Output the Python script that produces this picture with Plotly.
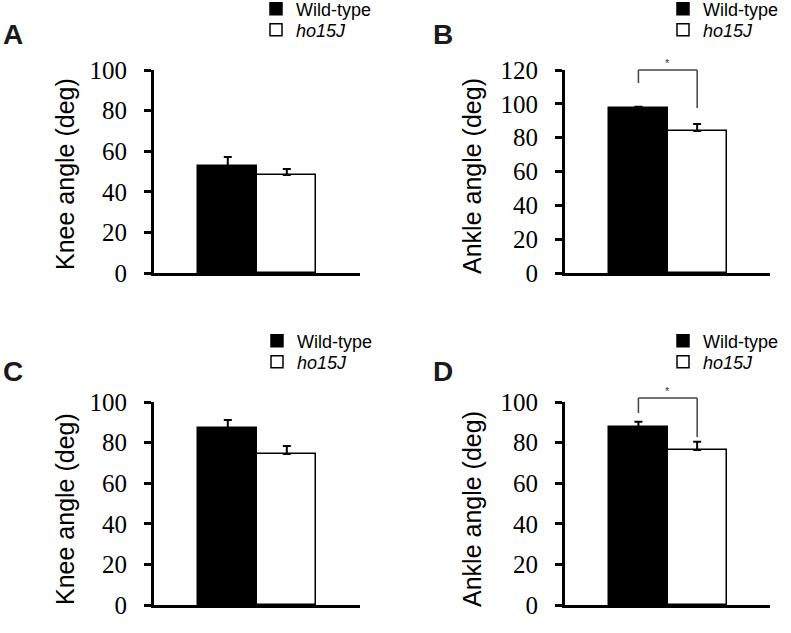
import plotly.graph_objects as go

W, H = 791, 633

groups = ["Wild-type", "ho15J"]
legend_names = ["Wild-type", "<i>ho15J</i>"]
panel_letters = ["A", "B", "C", "D"]
y_titles = ["Knee angle (deg)", "Ankle angle (deg)", "Knee angle (deg)", "Ankle angle (deg)"]
y_max = [100, 120, 100, 100]

# means and SEM (upward error only)
means_A = [52.7, 48.3]
err_A = [4.4, 2.9]
means_B = [97.5, 83.9]
err_B = [0.8, 4.2]
means_C = [87.2, 74.4]
err_C = [3.9, 3.9]
means_D = [87.5, 76.4]
err_D = [2.8, 4.0]

# significance brackets: (top, left leg bottom, right leg bottom, star y) for B and D
bracket_B = [120, 112.3, 97.5, 124]
bracket_D = [102, 94.6, 82.8, 105.5]

means = [means_A, means_B, means_C, means_D]
errs = [err_A, err_B, err_C, err_D]
brackets = [None, bracket_B, None, bracket_D]

fills = ["black", "white"]
x_range = [-1.25, 2.24]

def px_x(p):
    return p / W

def px_y(p):
    return 1 - p / H

def xfrac(c):
    # category index -> fraction of the x axis domain
    return (c - x_range[0]) / (x_range[1] - x_range[0])

# plot-area pixel boxes (left, right, top, bottom)
boxes = [(154, 360, 70, 273), (565, 770, 70, 273), (154, 360, 402, 605), (565, 770, 402, 605)]
title_pos = [(65, 174), (472, 176), (65, 509), (472, 509)]
letter_pos = [(13, 34), (443, 34), (13, 371), (443, 371)]
# legend: left x of legend box, centre y of each row
legend_x = [256, 663, 257, 663]
legend_rows = [(9, 30), (9, 30), (341, 362), (341, 362)]

fig = go.Figure()
layout = dict(
    width=W, height=H, margin=dict(l=0, r=0, t=0, b=0, autoexpand=False),
    plot_bgcolor="white", paper_bgcolor="white", barmode="group", bargap=0,
    showlegend=True,
)
annotations = []
shapes = []

for i in range(4):
    xa = "x" if i == 0 else f"x{i+1}"
    ya = "y" if i == 0 else f"y{i+1}"
    for g in range(2):
        k = 2 * i + g + 1
        lg = "legend" if k == 1 else f"legend{k}"
        fig.add_trace(go.Bar(
            x=[groups[g]], y=[means[i][g]], name=legend_names[g],
            xaxis=xa, yaxis=ya, legend=lg, width=1,
            marker=dict(color=fills[g], line=dict(color="black", width=1.5)),
            error_y=dict(type="data", symmetric=False, array=[errs[i][g]], arrayminus=[0],
                         color="black", thickness=2, width=4),
        ))
        layout[lg] = dict(
            x=px_x(legend_x[i]), y=px_y(legend_rows[i][g]), xanchor="left", yanchor="middle",
            bgcolor="rgba(0,0,0,0)", borderwidth=0, tracegroupgap=0,
            font=dict(family="Liberation Sans", size=18, color="black"),
            itemclick=False, itemdoubleclick=False,
        )
    l, r, t, b = boxes[i]
    xkey = "xaxis" if i == 0 else f"xaxis{i+1}"
    ykey = "yaxis" if i == 0 else f"yaxis{i+1}"
    layout[xkey] = dict(
        domain=[px_x(l), px_x(r)], anchor=ya, type="category",
        categoryorder="array", categoryarray=groups,
        range=x_range, showline=True, linewidth=3, linecolor="black",
        ticks="", showticklabels=False, showgrid=False, zeroline=False, fixedrange=True,
    )
    layout[ykey] = dict(
        domain=[px_y(b), px_y(t)], anchor=xa, range=[0, y_max[i]], dtick=20,
        showline=True, linewidth=3, linecolor="black", ticks="outside", ticklen=7,
        tickwidth=3, tickcolor="black", showgrid=False, zeroline=False,
        tickfont=dict(family="Liberation Serif", size=25, color="black"),
        ticklabelstandoff=12, fixedrange=True,
    )
    tx, ty = title_pos[i]
    annotations.append(dict(
        text=y_titles[i], x=px_x(tx), y=px_y(ty), xref="paper", yref="paper",
        xanchor="center", yanchor="middle", textangle=-90, showarrow=False,
        font=dict(family="Liberation Sans", size=25, color="black"),
    ))
    cx, cy = letter_pos[i]
    annotations.append(dict(
        text=f"<b>{panel_letters[i]}</b>", x=px_x(cx), y=px_y(cy), xref="paper", yref="paper",
        xanchor="center", yanchor="middle", showarrow=False,
        font=dict(family="Liberation Sans", size=28, color="#1a1a1a"),
    ))
    br = brackets[i]
    if br is not None:
        top, lb, rb, sy = br
        xd, yd = f"{xa} domain", f"{ya} domain"
        ym = y_max[i]
        line = dict(color="#444444", width=1.5)
        shapes.append(dict(type="line", xref=xd, yref=yd, x0=xfrac(0), x1=xfrac(1),
                           y0=top / ym, y1=top / ym, line=line))
        shapes.append(dict(type="line", xref=xd, yref=yd, x0=xfrac(0), x1=xfrac(0),
                           y0=top / ym, y1=lb / ym, line=line))
        shapes.append(dict(type="line", xref=xd, yref=yd, x0=xfrac(1), x1=xfrac(1),
                           y0=top / ym, y1=rb / ym, line=line))
        annotations.append(dict(
            text="*", x=xfrac(0.5), y=sy / ym, xref=xd, yref=yd, showarrow=False,
            xanchor="center", yanchor="middle",
            font=dict(family="Liberation Sans", size=11, color="#333333"),
        ))

layout["annotations"] = annotations
layout["shapes"] = shapes
fig.update_layout(**layout)
fig.write_html(
    "out.html",
    config={"displayModeBar": False},
    post_script="document.body.style.margin='0';document.body.style.overflow='hidden';",
)
